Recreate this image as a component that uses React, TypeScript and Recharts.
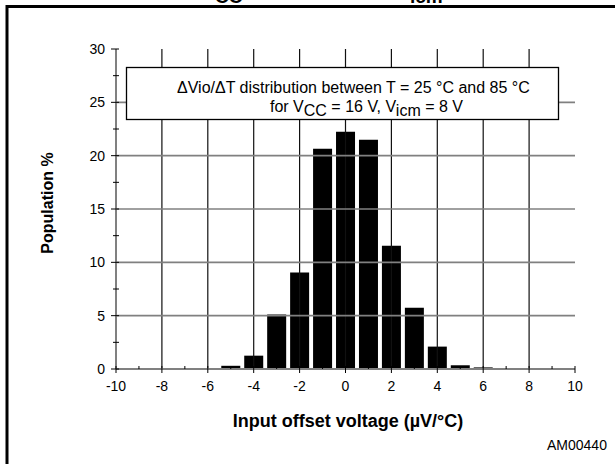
import React from 'react';
import { Bar, ComposedChart, ReferenceLine, XAxis, YAxis } from 'recharts';

const binCenters = [-5, -4, -3, -2, -1, 0, 1, 2, 3, 4, 5, 6];
const population = [0.3, 1.25, 5.1, 9.05, 20.65, 22.25, 21.5, 11.55, 5.75, 2.1, 0.35, 0.15];

const xTicks = [-10, -9, -8, -7, -6, -5, -4, -3, -2, -1, 0, 1, 2, 3, 4, 5, 6, 7, 8, 9, 10];
const yTicks = [0, 2.5, 5, 7.5, 10, 12.5, 15, 17.5, 20, 22.5, 25, 27.5, 30];
const xGrid = [-8, -6, -4, -2, 0, 2, 4, 6, 8];
const yGrid = [5, 10, 15, 20, 25];

const data = binCenters.map((x, i) => ({ x, pct: population[i] }));

const FONT = '"Liberation Sans", Arial, Helvetica, sans-serif';

const isMajorX = (v: number) => v % 2 === 0;
const isMajorY = (v: number) => v % 5 === 0;

const BottomTick = (props: any) => {
    const { x, y, payload } = props;
    const major = isMajorX(payload.value);
    return (
        <g>
            <line x1={x} x2={x} y1={y - 3} y2={major ? y + 4 : y} stroke="#000" strokeWidth={1} />
            {major && (
                <text x={x} y={y + 22} textAnchor="middle" fontSize={14} fontFamily={FONT} fill="#000">
                    {payload.value}
                </text>
            )}
        </g>
    );
};

const TopTick = (props: any) => {
    const { x, y, payload } = props;
    if (isMajorX(payload.value)) return null;
    return <line x1={x} x2={x} y1={y} y2={y + 3} stroke="#000" strokeWidth={1.5} />;
};

const LeftTick = (props: any) => {
    const { x, y, payload } = props;
    const major = isMajorY(payload.value);
    return (
        <g>
            <line x1={major ? x - 5 : x - 3} x2={x + 3} y1={y} y2={y} stroke="#000" strokeWidth={1} />
            {major && (
                <text x={x - 11} y={y + 5} textAnchor="end" fontSize={14} fontFamily={FONT} fill="#000">
                    {payload.value}
                </text>
            )}
        </g>
    );
};

const RightTick = (props: any) => {
    const { x, y, payload } = props;
    if (isMajorY(payload.value)) return null;
    return <line x1={x - 3} x2={x} y1={y} y2={y} stroke="#555" strokeWidth={1.5} />;
};

export default function App() {
    return (
        <div style={{ position: 'absolute', left: 0, top: 0, width: 615, height: 464, background: '#fff' }}>
            <ComposedChart
                width={615}
                height={464}
                data={data}
                margin={{ top: 49, right: 40, left: 56, bottom: 55 }}
            >
                <XAxis
                    xAxisId="bottom"
                    dataKey="x"
                    type="number"
                    domain={[-10, 10]}
                    ticks={xTicks}
                    interval={0}
                    height={40}
                    tickSize={0}
                    tickMargin={0}
                    tick={<BottomTick />}
                    axisLine={{ stroke: '#808080', strokeWidth: 2 }}
                    tickLine={false}
                    allowDataOverflow
                />
                <XAxis
                    xAxisId="top"
                    orientation="top"
                    type="number"
                    domain={[-10, 10]}
                    ticks={xTicks}
                    interval={0}
                    height={0}
                    tickSize={0}
                    tickMargin={0}
                    tick={<TopTick />}
                    axisLine={{ stroke: '#808080', strokeWidth: 2 }}
                    tickLine={false}
                    allowDataOverflow
                />
                <YAxis
                    yAxisId="left"
                    type="number"
                    domain={[0, 30]}
                    ticks={yTicks}
                    interval={0}
                    width={60}
                    tickSize={0}
                    tickMargin={0}
                    tick={<LeftTick />}
                    axisLine={{ stroke: '#808080', strokeWidth: 2 }}
                    tickLine={false}
                    allowDataOverflow
                />
                <YAxis
                    yAxisId="right"
                    orientation="right"
                    type="number"
                    domain={[0, 30]}
                    ticks={yTicks}
                    interval={0}
                    width={0}
                    tickSize={0}
                    tickMargin={0}
                    tick={<RightTick />}
                    axisLine={{ stroke: '#000', strokeWidth: 2 }}
                    tickLine={false}
                    allowDataOverflow
                />
                {xGrid.map((v) => (
                    <ReferenceLine key={`vx-${v}`} x={v} xAxisId="bottom" yAxisId="left" stroke="#111" strokeWidth={1.2} />
                ))}
                {yGrid.map((v) => (
                    <ReferenceLine key={`hy-${v}`} y={v} xAxisId="bottom" yAxisId="left" stroke="#808080" strokeWidth={1.6} />
                ))}
                <Bar
                    dataKey="pct"
                    xAxisId="bottom"
                    yAxisId="left"
                    fill="#000"
                    barSize={19}
                    isAnimationActive={false}
                />
            </ComposedChart>
            <svg
                width={615}
                height={464}
                style={{ position: 'absolute', left: 0, top: 0, pointerEvents: 'none' }}
                fontFamily={FONT}
            >
                <rect x={7} y={6.5} width={700} height={600} fill="none" stroke="#000" strokeWidth={3} />
                {/* bottoms of the cut-off figure title */}
                <text x={215} y={3} fontSize={19} fontWeight="bold" fill="#000">CC</text>
                <text x={410} y={3} fontSize={19} fontWeight="bold" fill="#000">icm</text>
                <rect x={126.5} y={67.5} width={432} height={52} fill="#fff" stroke="#000" strokeWidth={1.3} />
                <text x={177} y={93} fontSize={16} fill="#000">ΔVio/ΔT distribution between T = 25 °C and 85 °C</text>
                <text x={270} y={112} fontSize={16} fill="#000">
                    for V<tspan dy={4}>CC</tspan>
                    <tspan dy={-4}> = 16 V, V</tspan>
                    <tspan dy={4}>icm</tspan>
                    <tspan dy={-4}> = 8 V</tspan>
                </text>
                <text
                    x={0}
                    y={0}
                    transform="translate(53 203) rotate(-90)"
                    textAnchor="middle"
                    fontSize={16}
                    fontWeight="bold"
                    fill="#000"
                >
                    Population %
                </text>
                <text x={348} y={427} textAnchor="middle" fontSize={18} fontWeight="bold" fill="#000">
                    Input offset voltage (µV/°C)
                </text>
                <text x={547} y={450} fontSize={14} fill="#000">AM00440</text>
            </svg>
        </div>
    );
}
